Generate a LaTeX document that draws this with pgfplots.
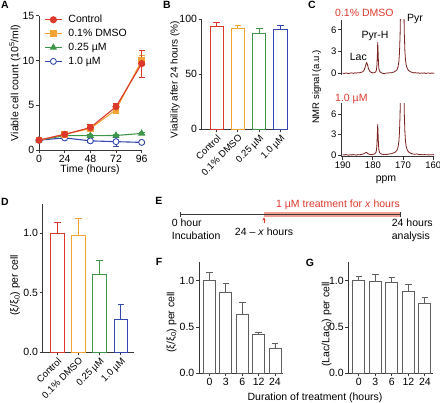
\documentclass[border=0pt]{standalone}
\usepackage{fontspec}
\setmainfont{Liberation Sans}
\usepackage{pgfplots}
\pgfplotsset{compat=1.18}
\usetikzlibrary{arrows.meta}
\definecolor{cRed}{RGB}{221,56,44}
\definecolor{cOrange}{RGB}{243,163,51}
\definecolor{cGreen}{RGB}{61,150,74}
\definecolor{cBlue}{RGB}{52,72,176}
\definecolor{axcol}{RGB}{55,55,55}
\definecolor{spec}{RGB}{125,32,32}
\definecolor{barfg}{RGB}{95,95,95}
\definecolor{lightred}{RGB}{242,160,150}
\newcommand\fs{\fontsize{10.5}{12.5}\selectfont}
\newcommand\fss{\fontsize{9.5}{11.5}\selectfont}
\pgfplotsset{
  gp/.style={
    scale only axis,
    anchor=south west,
    axis x line*=bottom, axis y line*=left,
    axis line style={axcol, line width=0.9pt, -},
    every tick/.style={axcol, line width=0.9pt},
    tick align=outside, major tick length=3pt,
    tick label style={font=\fs, text=black, inner sep=1.5pt},
    label style={font=\fs},
    /pgf/number format/assume math mode=true,
  },
  onedec/.style={yticklabel style={/pgf/number format/fixed, /pgf/number format/fixed zerofill, /pgf/number format/precision=1}},
  ebar/.style={error bars/.cd, y dir=plus, y explicit,
    error bar style={#1, line width=0.9pt},
    error mark options={#1, rotate=90, mark size=3.3pt, line width=0.9pt}},
  ebboth/.style={error bars/.cd, y dir=both, y explicit,
    error bar style={#1, line width=0.9pt},
    error mark options={#1, rotate=90, mark size=3pt, line width=0.9pt}},
}
\begin{document}
\begin{tikzpicture}
\useasboundingbox (0,0) rectangle (440pt,403pt);
% ---------------- A ----------------
\begin{axis}[gp, at={(39pt,253pt)}, width=102.7pt, height=134.3pt,
  xmin=0, xmax=96, ymin=0, ymax=15, xtick={0,24,48,72,96}, ytick={0,5,10,15},
  clip=false,
  xlabel={Time (hours)}, ylabel={Viable cell count (10\textsuperscript{5}/ml)},
  xlabel style={at={(axis description cs:0.497,-0.15)}, anchor=center},
  ylabel style={at={(axis description cs:-0.234,0.5)}, anchor=center},
  reverse legend, legend cell align=left,
  legend style={at={(axis description cs:0.05,1.02)}, anchor=north west, draw=none, fill=none,
    font=\fs, row sep=1pt, inner sep=0pt,
    /tikz/every odd column/.append style={column sep=4pt}},
  legend image code/.code={\draw[mark repeat=2,mark phase=2,#1] plot coordinates {(0pt,0pt) (8.5pt,0pt) (17pt,0pt)};},
]
\addplot[cBlue, line width=1.1pt, mark=*, mark size=3pt, mark options={solid, fill=white, draw=cBlue, line width=0.9pt}, ebboth=cBlue]
  coordinates {(0,1.1) +- (0,0.1) (24,1.35) +- (0,0.1) (48,1.02) +- (0,0.15) (72,0.93) +- (0,0.5) (96,0.85) +- (0,0.1)};
\addlegendentry{1.0 µM}
\addplot[cGreen, line width=1.1pt, mark=triangle*, mark size=3.2pt, mark options={solid, fill=cGreen}, ebboth=cGreen]
  coordinates {(0,1.1) +- (0,0.1) (24,1.6) +- (0,0.1) (48,1.6) +- (0,0.1) (72,1.62) +- (0,0.1) (96,1.85) +- (0,0.12)};
\addlegendentry{0.25 µM}
\addplot[cOrange, line width=1.1pt, mark=square*, mark size=2.8pt, mark options={solid, fill=cOrange}, ebboth=cOrange]
  coordinates {(0,1.1) +- (0,0.1) (24,1.75) +- (0,0.2) (48,2.4) +- (0,0.3) (72,4.5) +- (0,0.4) (96,10.0) +- (0,0.6)};
\addlegendentry{0.1\% DMSO}
\addplot[cRed, line width=1.1pt, mark=*, mark size=3pt, mark options={solid, fill=cRed}, ebboth=cRed]
  coordinates {(0,1.1) +- (0,0.2) (24,1.75) +- (0,0.25) (48,2.5) +- (0,0.4) (72,4.83) +- (0,0.4) (96,9.65) +- (0,1.5)};
\addlegendentry{Control}
\end{axis}
% ---------------- B ----------------
\begin{axis}[gp, at={(201.7pt,273.7pt)}, width=86.3pt, height=110.3pt,
  xmin=0.3, xmax=4.35, ymin=0, ymax=100, ytick={0,50,100}, xtick={1,2,3,4},
  xticklabels={Control, 0.1\% DMSO, 0.25 µM, 1.0 µM},
  xticklabel style={rotate=45, anchor=north east, inner sep=1pt, font=\fss},
  ylabel={Viability after 24 hours (\%)},
  ylabel style={at={(axis description cs:-0.309,0.45)}, anchor=center, font=\fontsize{10}{12}\selectfont},
  ybar, bar width=13.3pt, bar shift=0pt,
]
\addplot[draw=cRed, fill=white, line width=0.9pt, ebar=cRed] coordinates {(1,93.5) +- (0,3.5)};
\addplot[draw=cOrange, fill=white, line width=0.9pt, ebar=cOrange] coordinates {(2,91.5) +- (0,2.8)};
\addplot[draw=cGreen, fill=white, line width=0.9pt, ebar=cGreen] coordinates {(3,87.0) +- (0,4.5)};
\addplot[draw=cBlue, fill=white, line width=0.9pt, ebar=cBlue] coordinates {(4,90.6) +- (0,3.7)};
\end{axis}
% ---------------- C top ----------------
\begin{axis}[gp, at={(341pt,328.3pt)}, width=93pt, height=54.7pt,
  x dir=reverse, xmin=159.77, xmax=190.56, ymin=-0.2, ymax=7.38,
  axis x line=none, ytick={0,3,6}, tick label style={font=\fss},
]
\addplot[spec, line width=0.8pt] coordinates {
(190.0,0.02) (189.5,-0.05) (189.0,0.04) (188.5,0.00) (188.0,-0.06) (187.5,0.03) (187.0,0.05) (186.5,-0.02)
(186.0,0.06) (185.5,0.02) (185.0,0.08) (184.5,0.05) (184.0,0.12) (183.5,0.18) (183.25,0.25) (183.0,0.38)
(182.75,0.60) (182.5,0.95) (182.25,1.30) (182.1,1.45) (181.9,1.35) (181.75,1.10) (181.5,0.70) (181.25,0.42)
(181.0,0.25) (180.5,0.12) (180.0,0.05) (179.5,0.08) (179.0,0.22) (178.8,0.55) (178.65,1.20) (178.5,2.80)
(178.4,4.30) (178.3,3.20) (178.15,1.40) (178.0,0.60) (177.8,0.30) (177.5,0.15) (177.0,0.02) (176.5,-0.06)
(176.0,-0.02) (175.5,0.04) (175.0,0.02) (174.5,0.08) (174.0,0.06) (173.5,0.12) (173.0,0.18) (172.5,0.30)
(172.0,0.50) (171.7,0.85) (171.4,1.6) (171.2,2.8) (171.0,5.2) (170.8,10) (170.6,25) (170.3,40)
(170.0,25) (169.8,11) (169.6,5.5) (169.4,3.0) (169.2,1.8) (169.0,1.2) (168.7,0.75) (168.4,0.50)
(168.0,0.32) (167.5,0.20) (167.0,0.12) (166.5,0.05) (166.0,0.09) (165.5,0.02) (165.0,0.06) (164.5,-0.02)
(164.0,0.04) (163.5,0.00) (163.0,0.05) (162.5,-0.03) (162.0,0.02) (161.5,0.04) (161.0,-0.02) (160.5,0.03)
(160.0,0.00) (159.7,0.02)};
\end{axis}
% ---------------- C bottom ----------------
\begin{axis}[gp, at={(341pt,246.3pt)}, width=93pt, height=53.4pt,
  x dir=reverse, xmin=159.77, xmax=190.56, ymin=-0.25, ymax=7.57,
  xtick={160,170,180,190}, ytick={0,3,6}, tick label style={font=\fss},
  xlabel={ppm}, xlabel style={at={(axis description cs:0.484,-0.44)}, anchor=center},
]
\addplot[spec, line width=0.8pt] coordinates {
(190.0,0.05) (189.5,0.00) (189.0,0.06) (188.5,0.02) (188.0,-0.03) (187.5,0.04) (187.0,0.01) (186.5,0.06)
(186.0,0.03) (185.5,-0.02) (185.0,0.05) (184.5,0.02) (184.0,0.07) (183.5,0.10) (183.0,0.18) (182.5,0.32)
(182.2,0.38) (181.9,0.30) (181.5,0.15) (181.0,0.08) (180.5,0.05) (180.0,0.10) (179.5,0.15) (179.0,0.35)
(178.8,0.75) (178.65,1.6) (178.5,3.4) (178.4,4.5) (178.3,3.3) (178.15,1.5) (178.0,0.70) (177.8,0.38)
(177.5,0.20) (177.0,0.12) (176.5,0.08) (176.0,0.10) (175.5,0.06) (175.0,0.12) (174.5,0.15) (174.0,0.18)
(173.5,0.25) (173.0,0.32) (172.5,0.45) (172.0,0.70) (171.7,1.1) (171.4,2.0) (171.2,3.3) (171.0,6.0)
(170.8,11) (170.6,25) (170.3,40) (170.0,26) (169.8,12) (169.6,6) (169.4,3.3) (169.2,2.0)
(169.0,1.3) (168.7,0.85) (168.4,0.55) (168.0,0.38) (167.5,0.25) (167.0,0.18) (166.5,0.12) (166.0,0.10)
(165.5,0.16) (165.0,0.10) (164.5,0.05) (164.0,0.07) (163.5,0.02) (163.0,0.06) (162.5,0.03) (162.0,0.05)
(161.5,0.00) (161.0,0.04) (160.5,0.02) (160.0,0.05) (159.7,0.01)};
\end{axis}
\node[font=\fss, rotate=90] at (316.7pt,316pt) {NMR signal (a.u.)};
\node[font=\fs, text=cRed, anchor=west, inner sep=0pt] at (335pt,390.3pt) {0.1\% DMSO};
\node[font=\fs, text=cRed, anchor=west, inner sep=0pt] at (335pt,304pt) {1.0 µM};
\node[font=\fs, inner sep=0pt] at (358.3pt,346pt) {Lac};
\node[font=\fs, inner sep=0pt] at (375pt,367pt) {Pyr-H};
\node[font=\fs, inner sep=0pt] at (415pt,384pt) {Pyr};
% ---------------- D ----------------
\begin{axis}[gp, onedec, at={(42.7pt,50.7pt)}, width=91.6pt, height=148.75pt,
  xmin=0.31, xmax=4.63, ymin=0, ymax=1.25, ytick={0,0.5,1}, xtick={1,2,3,4},
  xticklabels={Control, 0.1\% DMSO, 0.25 µM, 1.0 µM},
  xticklabel style={rotate=45, anchor=north east, inner sep=1pt, font=\fss},
  ylabel={(ξ/ξ\textsubscript{0}) per cell},
  ylabel style={at={(axis description cs:-0.30,0.45)}, anchor=center},
  ybar, bar width=13.7pt, bar shift=0pt,
]
\addplot[draw=cRed, fill=white, line width=0.9pt, ebar=cRed] coordinates {(1,1.0) +- (0,0.092)};
\addplot[draw=cOrange, fill=white, line width=0.9pt, ebar=cOrange] coordinates {(2,0.985) +- (0,0.14)};
\addplot[draw=cGreen, fill=white, line width=0.9pt, ebar=cGreen] coordinates {(3,0.655) +- (0,0.12)};
\addplot[draw=cBlue, fill=white, line width=0.9pt, ebar=cBlue] coordinates {(4,0.277) +- (0,0.126)};
\end{axis}
% ---------------- E ----------------
\fill[lightred] (264pt,186.2pt) rectangle (400.7pt,191.2pt);
\draw[axcol, line width=0.8pt] (180.7pt,188.7pt) -- (400.7pt,188.7pt);
\draw[axcol, line width=0.8pt] (180.7pt,186.2pt) -- (180.7pt,191.2pt);
\draw[axcol, line width=0.8pt] (400.7pt,186.2pt) -- (400.7pt,191.2pt);
\draw[cRed, line width=0.8pt, -{Stealth[length=3pt,width=3pt]}] (264pt,179.5pt) -- (264pt,185.5pt);
\node[font=\fs, text=cRed] at (338pt,198pt) {1 µM treatment for \textit{x} hours};
\node[font=\fs, align=left, anchor=north west, inner sep=0pt] at (171.7pt,184pt) {0 hour\\Incubation};
\node[font=\fs] at (264pt,171.3pt) {24 – \textit{x} hours};
\node[font=\fs, align=left, anchor=north west, inner sep=0pt] at (391.7pt,184pt) {24 hours\\analysis};
% ---------------- F ----------------
\begin{axis}[gp, onedec, at={(199pt,29.7pt)}, width=84pt, height=111.1pt,
  xmin=0.36, xmax=5.49, ymin=0, ymax=1.2, ytick={0,0.5,1}, xtick={1,2,3,4,5},
  xticklabels={0,3,6,12,24},
  ylabel={(ξ/ξ\textsubscript{0}) per cell},
  ylabel style={at={(axis description cs:-0.325,0.46)}, anchor=center},
  ybar, bar width=12pt, bar shift=0pt,
]
\addplot[draw=barfg, fill=white, line width=0.9pt, ebar=barfg] coordinates {
  (1,1.0) +- (0,0.09) (2,0.868) +- (0,0.103) (3,0.64) +- (0,0.125) (4,0.415) +- (0,0.03) (5,0.27) +- (0,0.055)};
\end{axis}
% ---------------- G ----------------
\begin{axis}[gp, onedec, at={(348.3pt,29.7pt)}, width=84.7pt, height=111.1pt,
  xmin=0.36, xmax=5.49, ymin=0, ymax=1.2, ytick={0,0.5,1}, xtick={1,2,3,4,5},
  xticklabels={0,3,6,12,24},
  ylabel={(Lac/Lac\textsubscript{0}) per cell},
  ylabel style={at={(axis description cs:-0.255,0.44)}, anchor=center},
  ybar, bar width=12pt, bar shift=0pt,
]
\addplot[draw=barfg, fill=white, line width=0.9pt, ebar=barfg] coordinates {
  (1,1.0) +- (0,0.043) (2,0.99) +- (0,0.08) (3,0.98) +- (0,0.05) (4,0.88) +- (0,0.075) (5,0.755) +- (0,0.06)};
\end{axis}
\node[font=\fs] at (315pt,5.7pt) {Duration of treatment (hours)};
% ---------------- panel letters ----------------
\node[font=\fs\bfseries] at (5pt,398pt) {A};
\node[font=\fs\bfseries] at (167pt,398pt) {B};
\node[font=\fs\bfseries] at (312pt,398pt) {C};
\node[font=\fs\bfseries] at (5pt,201.5pt) {D};
\node[font=\fs\bfseries] at (159pt,202pt) {E};
\node[font=\fs\bfseries] at (159pt,141pt) {F};
\node[font=\fs\bfseries] at (310pt,140pt) {G};
\end{tikzpicture}
\end{document}
